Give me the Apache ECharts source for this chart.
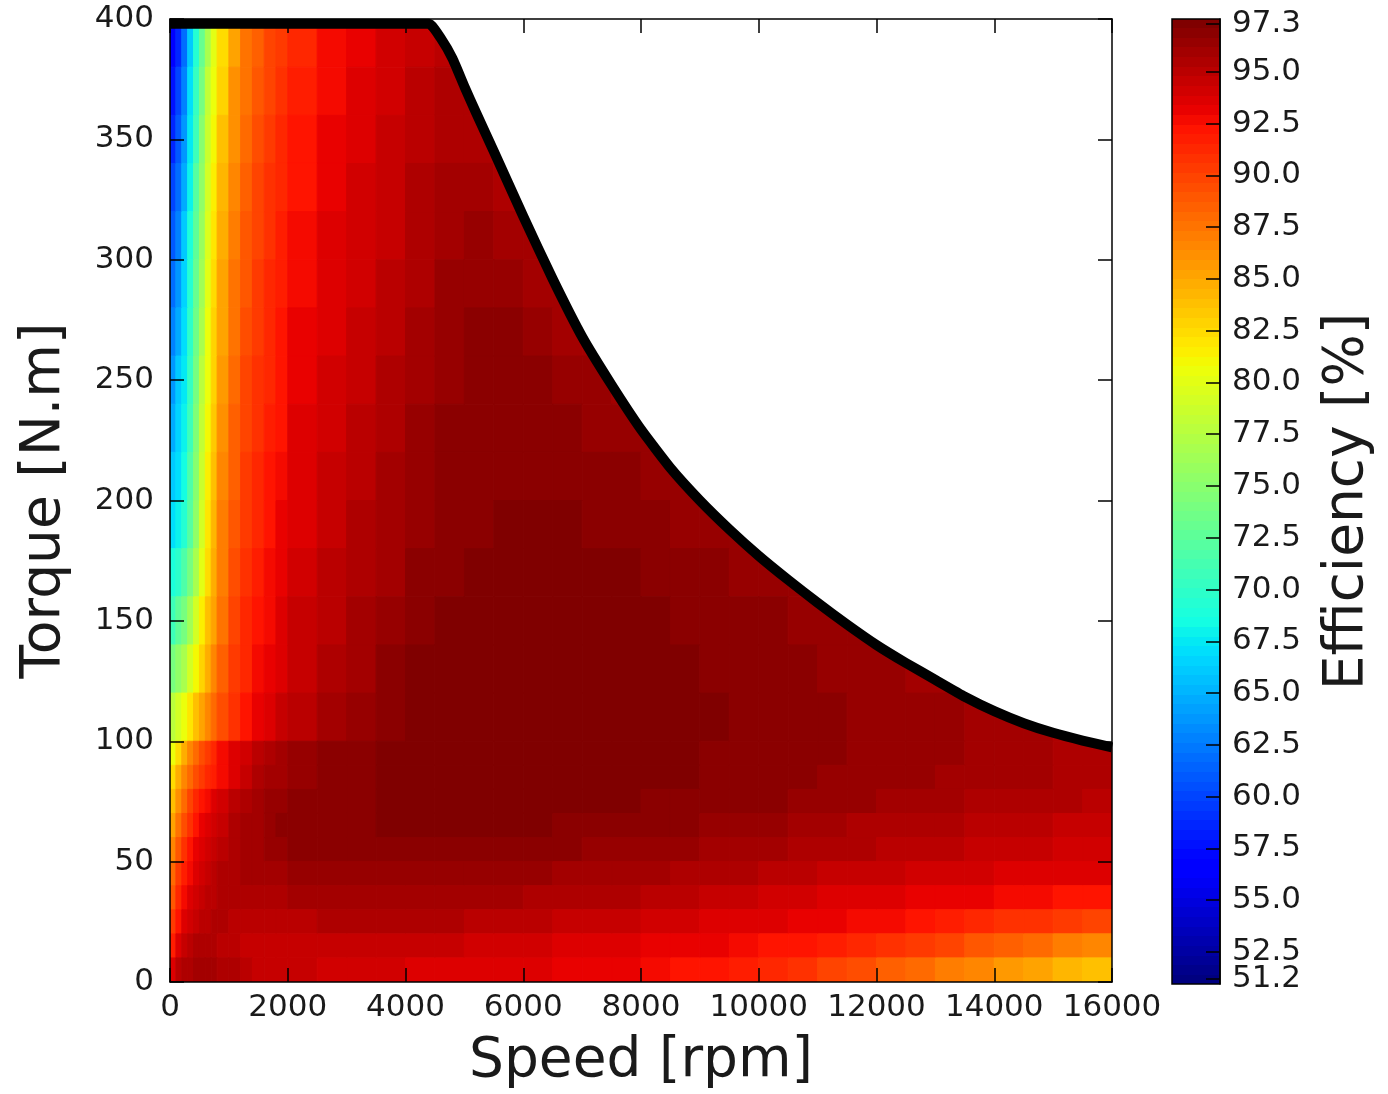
<!DOCTYPE html>
<html>
<head>
<meta charset="utf-8">
<script src="https://cdn.jsdelivr.net/npm/echarts@6/dist/echarts.min.js"></script>
<style>html,body{margin:0;padding:0;background:#fff}#chart{width:1388px;height:1094px}</style>
</head>
<body>
<div id="chart"></div>
<script>
// ---------- DATA ----------
const speedEdges = [0,100,200,300,400,500,600,700,800,1000,1200,1400,1600,1800,2000,2500,3000,3500,4000,4500,5000,5500,6000,6500,7000,7500,8000,8500,9000,9500,10000,10500,11000,11500,12000,12500,13000,13500,14000,14500,15000,15500,16000];
const torqueEdges = [400,380,360,340,320,300,280,260,240,220,200,180,160,140,120,100,90,80,70,60,50,40,30,20,10,0];

const eff_380_400 = [57,59,62,66,69.5,73,77,80,82.5,85.3,87.3,88.5,89.5,90.3,91.3,92.3,93,93.8,94.4,94.9];
const eff_360_380 = [58,60,63,67,70.5,74,78,80.5,83,85.8,87.6,88.8,89.8,90.6,91.6,92.6,93.3,94.0,94.6,95.2,95.0];
const eff_340_360 = [59,61,64,67.5,71,75,78.5,81,83.5,86,88,89.2,90.1,90.9,91.9,92.8,93.5,94.1,94.8,95.45,95.4,95.1];
const eff_320_340 = [60,62,65,68,72,75.5,79,81.5,84,86.5,88.3,89.5,90.4,91.1,92.1,93.0,93.7,94.3,95.0,95.7,95.75,95.4];
const eff_300_320 = [61,63,66,69,72.5,76,79.5,82,84.5,87,88.6,89.8,90.7,91.4,92.4,93.2,93.9,94.5,95.2,95.8,96.15,95.9,95.6];
const eff_280_300 = [62,64,66.5,69.5,73,76.5,80,82.3,85,87.3,88.9,90,90.9,91.6,92.6,93.4,94.0,94.7,95.4,96.0,96.3,96.2,95.9,95.6];
const eff_260_280 = [63,65,67,70,73.5,77,80.3,82.7,85.3,87.6,89.2,90.3,91.1,91.8,92.8,93.6,94.2,94.9,95.6,96.2,96.5,96.5,96.2,95.9,95.7];
const eff_240_260 = [64,66,67.5,70.5,74,77.5,80.6,83,85.6,87.9,89.5,90.5,91.3,92,93.0,93.8,94.4,95.1,95.8,96.3,96.6,96.7,96.5,96.2,96.0,95.8];
const eff_220_240 = [65,66.5,68,71,74.5,78,81,83.3,86,88.2,89.8,90.8,91.5,92.2,93.2,94.0,94.6,95.3,96.0,96.5,96.6,96.6,96.6,96.5,96.3,96.1,96.0];
const eff_200_220 = [66,67,68.5,71.5,75,78.5,81.3,83.6,86.3,88.5,90,91,91.8,92.4,93.4,94.2,94.8,95.5,96.1,96.5,96.6,96.6,96.6,96.6,96.6,96.45,96.3,96.1,96.0];
const eff_180_200 = [67,68,69.5,72,75.5,79,81.7,84,86.7,88.8,90.3,91.3,92,92.7,93.6,94.4,95.0,95.6,96.2,96.6,96.6,97.1,97.1,97.0,96.7,96.6,96.55,96.3,96.15,96.1];
const eff_160_180 = [69,70,71.5,74,77,80,82.2,84.5,87,89.1,90.6,91.6,92.3,92.9,93.8,94.6,95.2,95.9,96.5,96.6,97.05,97.1,97.1,97.1,97.1,97.0,96.65,96.6,96.6,96.35,96.15,96.1];
const eff_140_160 = [71,72.5,74,76.5,79,81.5,83.5,85.3,87.5,89.5,91,91.9,92.6,93.2,94.1,94.9,95.5,96.2,96.7,97.05,97.1,97.1,97.1,97.1,97.1,97.1,97.05,96.7,96.6,96.6,96.45,96.2,96.15,96.1];
const eff_120_140 = [74,75.5,77,79,81,83,84.8,86.3,88.2,90,91.3,92.3,93,93.6,94.5,95.3,95.9,96.5,97.0,97.1,97.1,97.1,97.1,97.1,97.1,97.1,97.1,97.05,96.8,96.6,96.6,96.55,96.3,96.15,96.1,95.75,95.7];
const eff_100_120 = [77.5,79,80.5,82,83.5,85,86.5,87.8,89.3,90.8,92,92.9,93.6,94.2,94.9,95.6,96.2,96.7,97.05,97.1,97.1,97.1,97.1,97.1,97.1,97.1,97.1,97.1,97.0,96.65,96.6,96.6,96.55,96.3,96.15,96.15,95.95,95.7,95.7,95.65,95.3,95.25];
const eff_90_100 = [80.5,82.5,84.5,86.5,88,89.3,90.3,91.2,92.3,93.3,94,94.6,95.1,95.5,96.0,96.5,96.8,97.0,97.1,97.1,97.1,97.1,97.1,97.1,97.1,97.1,97.1,97.1,96.6,96.6,96.6,96.6,96.45,96.2,96.15,96.15,96.0,95.7,95.7,95.65,95.3,95.25];
const eff_80_90 = [82.5,84.5,86.5,88,89.2,90.2,91,91.7,92.6,93.4,94.2,95.0,95.5,95.9,96.3,96.5,96.8,97.05,97.1,97.1,97.1,97.1,97.1,97.1,97.1,97.1,97.1,97.0,96.6,96.6,96.6,96.55,96.2,96.15,96.1,96.0,95.7,95.7,95.7,95.6,95.3,95.2];
const eff_70_80 = [83.5,86,88,89.8,91,91.9,92.6,93.2,94,94.8,95.3,95.7,96,96.3,96.6,96.7,96.6,97.1,97.1,97.1,97.1,97.1,97.1,97.1,97.1,97.05,96.6,96.6,96.6,96.6,96.4,96.2,96.15,96.0,95.7,95.6,95.5,95.4,95.3,95.1,95.0,94.85];
const eff_60_70 = [85,87.5,89.3,90.8,91.9,92.7,93.3,93.8,94.5,95.2,95.6,95.9,96.2,96.4,96.6,96.6,96.6,97.1,97.1,97.1,97.1,97.1,97.0,96.6,96.6,96.6,96.5,96.4,96.2,96.1,96.0,95.8,95.6,95.4,95.25,95.1,95.0,94.9,94.75,94.6,94.5,94.35];
const eff_50_60 = [86.5,88.8,90.5,91.8,92.7,93.4,93.9,94.3,94.9,95.4,95.7,95.9,96.1,96.2,96.4,96.5,96.6,96.6,96.6,96.6,96.6,96.6,96.5,96.4,96.3,96.2,96.1,96.0,95.9,95.8,95.6,95.4,95.2,95.0,94.85,94.7,94.6,94.5,94.3,94.2,94.0,93.9];
const eff_40_50 = [88,90,91.5,92.6,93.4,93.9,94.3,94.6,95.0,95.3,95.5,95.6,95.7,95.8,96.0,96.1,96.2,96.3,96.3,96.3,96.2,96.1,96.0,95.9,95.8,95.7,95.5,95.4,95.2,95.0,94.8,94.6,94.4,94.3,94.1,93.9,93.8,93.7,93.6,93.5,93.4,93.3];
const eff_30_40 = [89,91,92.5,93.3,93.9,94.3,94.6,94.8,95.0,95.1,95.2,95.3,95.35,95.4,95.5,95.6,95.7,95.8,95.8,95.7,95.6,95.5,95.4,95.2,95.1,95.0,94.8,94.6,94.4,94.2,94.0,93.8,93.6,93.5,93.3,93.1,92.9,92.7,92.5,92.3,92.1,91.9];
const eff_20_30 = [90,92,93.3,94,94.4,94.7,94.9,95.0,95.0,94.9,94.9,94.85,94.8,94.8,94.9,95.0,95.1,95.1,95.1,95.0,94.9,94.8,94.6,94.5,94.3,94.2,94.0,93.8,93.6,93.4,93.2,93.0,92.8,92.6,92.3,91.9,91.5,91.1,90.7,90.4,90.1,89.8];
const eff_10_20 = [91.5,93.2,94.2,94.7,95.0,95.2,95.2,95.1,94.9,94.7,94.5,94.4,94.35,94.3,94.3,94.3,94.3,94.3,94.2,94.1,94.0,93.9,93.8,93.6,93.5,93.3,93.1,92.9,92.7,92.4,92.1,91.8,91.4,91.0,90.5,90.0,89.5,88.9,88.3,87.7,87.1,86.5];
const eff_0_10 = [93.5,94.6,95.1,95.4,95.6,95.7,95.7,95.6,95.4,95.0,94.7,94.5,94.4,94.3,94.1,94.0,93.9,93.8,93.6,93.5,93.4,93.3,93.2,93.0,92.9,92.7,92.5,92.2,91.9,91.5,91.0,90.4,89.8,89.2,88.5,87.8,87.1,86.4,85.7,85.0,84.2,83.5];

const effRows = [eff_380_400,eff_360_380,eff_340_360,eff_320_340,eff_300_320,eff_280_300,eff_260_280,eff_240_260,eff_220_240,eff_200_220,eff_180_200,eff_160_180,eff_140_160,eff_120_140,eff_100_120,eff_90_100,eff_80_90,eff_70_80,eff_60_70,eff_50_60,eff_40_50,eff_30_40,eff_20_30,eff_10_20,eff_0_10];

// maximum-torque envelope
const envelopeSpeed  = [0,4400,4600,4800,5000,5200,5500,6000,6500,7000,7500,8000,8500,9000,9500,10000,10500,11000,11500,12000,12500,13000,13500,14000,14500,15000,15500,16000];
const envelopeTorque = [398,398,392,383.5,372,361,345,318,292,268,248,229.5,213.5,200,188,177,167,157.5,148.5,140,132.5,125.5,118.5,112.5,107.5,103.5,100.3,97.5];

// colorbar
const colorbarTicks = [51.2,52.5,55.0,57.5,60.0,62.5,65.0,67.5,70.0,72.5,75.0,77.5,80.0,82.5,85.0,87.5,90.0,92.5,95.0,97.3];
const colorbarRange = [50.95, 97.55];

// ---------- COLOUR (jet, 100 contour levels) ----------
const V_MIN = colorbarTicks[0], V_MAX = colorbarTicks[colorbarTicks.length - 1];
const N_LEVELS = 100;
function interp(t, pts) {
  for (let i = 1; i < pts.length; i++) {
    if (t <= pts[i][0]) {
      const a = pts[i - 1], b = pts[i];
      return a[1] + (b[1] - a[1]) * (t - a[0]) / (b[0] - a[0]);
    }
  }
  return pts[pts.length - 1][1];
}
function jet(t) {
  const r = interp(t, [[0,0],[0.35,0],[0.66,1],[0.89,1],[1,0.5]]);
  const g = interp(t, [[0,0],[0.125,0],[0.375,1],[0.64,1],[0.91,0],[1,0]]);
  const b = interp(t, [[0,0.5],[0.11,1],[0.34,1],[0.65,0],[1,0]]);
  return 'rgb(' + Math.round(r * 255) + ',' + Math.round(g * 255) + ',' + Math.round(b * 255) + ')';
}
function levelColor(v) {
  let k = Math.floor((v - V_MIN) / (V_MAX - V_MIN) * N_LEVELS);
  k = Math.max(0, Math.min(N_LEVELS - 1, k));
  return jet(k / (N_LEVELS - 1));
}
const cbStops = [];
for (let k = 0; k < N_LEVELS; k++) {
  const c = jet(k / (N_LEVELS - 1));
  cbStops.push({offset: k / N_LEVELS, color: c});
  cbStops.push({offset: (k + 1) / N_LEVELS, color: c});
}

// ---------- BUILD ----------
const cells = [];
effRows.forEach((row, i) => {
  row.forEach((v, j) => {
    if (v == null) return;
    cells.push([speedEdges[j], speedEdges[j + 1], torqueEdges[i + 1], torqueEdges[i], v]);
  });
});
const envelope = envelopeSpeed.map((s, i) => [s, envelopeTorque[i]]);

const FONT = 'DejaVu Sans';
const TXT = '#1a1a1a';
const axisLineStyle = {color: '#000', width: 1.5};
const tickStyle = {inside: true, length: 14, lineStyle: {color: '#000', width: 1.5}};
const plain = v => String(v);
const cbMain = colorbarTicks.slice(1);   // 52.5 ... 97.3
const cbLow = colorbarTicks.slice(0, 1); // 51.2 (own axis so it may overlap 52.5)

const chart = echarts.init(document.getElementById('chart'), null, {renderer: 'canvas'});
chart.setOption({
  animation: false,
  backgroundColor: '#fff',
  textStyle: {fontFamily: FONT},
  grid: [
    {left: 170, top: 19, width: 942, height: 964, show: false},
    {left: 1172, top: 19, width: 48, height: 965, show: false}
  ],
  xAxis: [
    {gridIndex: 0, type: 'value', min: 0, max: 16000, interval: 2000, position: 'bottom', z: 10,
     axisLine: {show: true, onZero: false, lineStyle: axisLineStyle}, axisTick: tickStyle,
     axisLabel: {fontSize: 31, color: TXT, margin: 10, fontFamily: FONT, formatter: plain, showMinLabel: true, showMaxLabel: true},
     splitLine: {show: false},
     name: 'Speed [rpm]', nameLocation: 'middle', nameGap: 52,
     nameTextStyle: {fontSize: 55, color: TXT, fontFamily: FONT}},
    {gridIndex: 0, type: 'value', min: 0, max: 16000, interval: 2000, position: 'top', z: 10,
     axisLine: {show: true, onZero: false, lineStyle: axisLineStyle}, axisTick: tickStyle,
     axisLabel: {show: false}, splitLine: {show: false}},
    {gridIndex: 1, type: 'value', min: 0, max: 1, show: false}
  ],
  yAxis: [
    {gridIndex: 0, type: 'value', min: 0, max: 400, interval: 50, position: 'left', z: 10,
     axisLine: {show: true, onZero: false, lineStyle: axisLineStyle}, axisTick: tickStyle,
     axisLabel: {fontSize: 31, color: TXT, margin: 16, fontFamily: FONT, formatter: plain, showMinLabel: true, showMaxLabel: true},
     splitLine: {show: false},
     name: 'Torque [N.m]', nameLocation: 'middle', nameGap: 98,
     nameTextStyle: {fontSize: 55, color: TXT, fontFamily: FONT}},
    {gridIndex: 0, type: 'value', min: 0, max: 400, interval: 50, position: 'right', z: 10,
     axisLine: {show: true, onZero: false, lineStyle: axisLineStyle}, axisTick: tickStyle,
     axisLabel: {show: false}, splitLine: {show: false}},
    {gridIndex: 1, type: 'value', min: colorbarRange[0], max: colorbarRange[1], position: 'right', z: 10,
     axisLine: {show: true, onZero: false, lineStyle: axisLineStyle},
     axisTick: {inside: true, length: 14, lineStyle: {color: '#000', width: 1.5}, customValues: colorbarTicks},
     axisLabel: {customValues: cbMain, formatter: v => Number(v).toFixed(1), showMinLabel: true, showMaxLabel: true,
                 fontSize: 31, color: TXT, margin: 12, fontFamily: FONT},
     splitLine: {show: false},
     name: 'Efficiency [%]', nameLocation: 'middle', nameGap: 100, nameRotate: 90,
     nameTextStyle: {fontSize: 55, color: TXT, fontFamily: FONT}},
    {gridIndex: 1, type: 'value', min: colorbarRange[0], max: colorbarRange[1], position: 'right', z: 10,
     axisLine: {show: false}, axisTick: {show: false}, splitLine: {show: false},
     axisLabel: {customValues: cbLow, formatter: v => Number(v).toFixed(1), showMinLabel: true,
                 fontSize: 31, color: TXT, margin: 12, fontFamily: FONT}}
  ],
  series: [
    {
      type: 'custom', xAxisIndex: 0, yAxisIndex: 0, z: 2, silent: true, clip: true,
      encode: {x: [0, 1], y: [2, 3]},
      data: cells,
      renderItem: function (params, api) {
        const p0 = api.coord([api.value(0), api.value(3)]);
        const p1 = api.coord([api.value(1), api.value(2)]);
        const c = levelColor(api.value(4));
        return {type: 'rect', shape: {x: p0[0], y: p0[1], width: p1[0] - p0[0], height: p1[1] - p0[1]},
                style: {fill: c, stroke: c, lineWidth: 1}};
      }
    },
    {
      type: 'line', xAxisIndex: 0, yAxisIndex: 0, z: 3, silent: true, symbol: 'none',
      data: envelope, smooth: 0.15,
      lineStyle: {width: 0, color: '#fff'},
      areaStyle: {color: '#fff', opacity: 1, origin: 'end'}
    },
    {
      type: 'line', xAxisIndex: 0, yAxisIndex: 0, z: 4, silent: true, symbol: 'none',
      data: envelope, smooth: 0.15,
      lineStyle: {width: 10, color: '#000', cap: 'butt', join: 'round'}
    },
    {
      type: 'custom', xAxisIndex: 2, yAxisIndex: 2, z: 2, silent: true,
      data: [[0, 1, colorbarRange[0], colorbarRange[1]]],
      renderItem: function (params, api) {
        const p0 = api.coord([api.value(0), api.value(3)]);
        const p1 = api.coord([api.value(1), api.value(2)]);
        return {type: 'rect', shape: {x: p0[0], y: p0[1], width: p1[0] - p0[0], height: p1[1] - p0[1]},
                style: {fill: new echarts.graphic.LinearGradient(0, 1, 0, 0, cbStops), stroke: '#000', lineWidth: 1.5}};
      }
    }
  ]
});
</script>
</body>
</html>
